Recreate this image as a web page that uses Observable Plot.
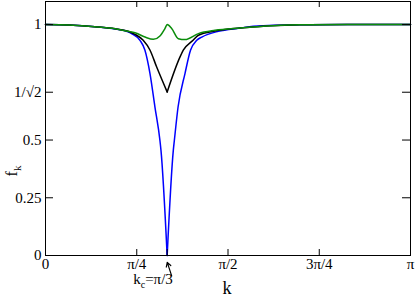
<!DOCTYPE html>
<html><head><meta charset="utf-8">
<script src="https://cdn.jsdelivr.net/npm/d3@7"></script>
<script src="https://cdn.jsdelivr.net/npm/@observablehq/plot@0.6"></script>
<style>body{margin:0;background:#fff} svg text{font-family:"Liberation Serif",serif !important}</style>
</head><body><div id="chart"></div>
<script>
const PI = Math.PI;
const kc = PI / 3;
const xTicks = [0, PI / 4, PI / 2, 3 * PI / 4, PI];
const xLabels = ["0", "π/4", "π/2", "3π/4", "π"];
const yTicks = [0, 0.25, 0.5, 1 / Math.SQRT2, 1];
const yLabels = ["0", "0.25", "0.5", "1/√2", "1"];

const kBlue = [0, 0.2, 0.425, 0.6, 0.71, 0.741, 0.813, 0.856, 0.899, 0.942, 0.985, 0.994, 1.0472, 1.100, 1.109, 1.141, 1.201, 1.248, 1.302, 1.345, 1.488, 1.675, 1.787, 2.19, 2.6, 3.1416];
const fBlue = [1.0, 0.998, 0.991, 0.981, 0.969, 0.961, 0.932, 0.889, 0.789, 0.643, 0.498, 0.455, 0.0, 0.455, 0.498, 0.643, 0.789, 0.889, 0.932, 0.946, 0.971, 0.985, 0.993, 0.999, 1.0, 1.0];

const kBlack = [0, 0.2, 0.425, 0.6, 0.71, 0.77, 0.841, 0.9, 0.957, 1.0472, 1.158, 1.186, 1.27, 1.316, 1.459, 1.675, 2.19, 2.6, 3.1416];
const fBlack = [1.0, 0.998, 0.991, 0.982, 0.971, 0.958, 0.932, 0.889, 0.816, 0.708, 0.86, 0.889, 0.932, 0.954, 0.972, 0.985, 0.999, 1.0, 1.0];

const kGreen = [0, 0.2, 0.425, 0.6, 0.71, 0.77, 0.856, 0.928, 0.985, 1.028, 1.0472, 1.086, 1.143, 1.201, 1.316, 1.459, 1.675, 2.19, 2.6, 3.1416];
const fGreen = [1.0, 0.998, 0.991, 0.982, 0.971, 0.965, 0.946, 0.936, 0.951, 0.983, 1.0, 0.983, 0.939, 0.935, 0.961, 0.975, 0.985, 0.999, 1.0, 1.0];

function branches(ks, fs) {
  const rows = [];
  ks.forEach((k, i) => {
    if (k <= kc + 1e-3) rows.push({k, f: fs[i], b: "L"});
    if (k >= kc - 1e-3) rows.push({k, f: fs[i], b: "R"});
  });
  return rows;
}
const blue = branches(kBlue, fBlue);
const black = branches(kBlack, fBlack);
const green = kGreen.map((k, i) => ({k, f: fGreen[i]}));

const W = 415, H = 297, mL = 45, mR = 5, mT = 1, mB = 42;
const frameH = H - mT - mB, frameW = W - mL - mR;
const xTickMarks = [PI / 4, kc, PI / 2, 3 * PI / 4];
const FF = "'Liberation Serif', serif";

const chart = Plot.plot({
  width: W, height: H,
  marginLeft: mL, marginRight: mR, marginTop: mT, marginBottom: mB,
  style: {fontFamily: FF, fontSize: "15px", background: "white"},
  x: {domain: [0, PI]},
  y: {domain: [0, 1.1]},
  marks: [
    Plot.line(blue, {x: "k", y: "f", z: "b", stroke: "#0000ff", strokeWidth: 1.5, curve: "monotone-x"}),
    Plot.line(black, {x: "k", y: "f", z: "b", stroke: "#000000", strokeWidth: 1.5, curve: "monotone-x"}),
    Plot.line(green, {x: "k", y: "f", stroke: "#0a8c0a", strokeWidth: 1.5, curve: "monotone-x"}),
    Plot.tickX(xTickMarks, {x: d => d, insetTop: frameH - 6, stroke: "black"}),
    Plot.tickX(xTickMarks, {x: d => d, insetBottom: frameH - 6, stroke: "black"}),
    Plot.tickY(yTicks.slice(1), {y: d => d, insetRight: frameW - 8, stroke: "black"}),
    Plot.tickY(yTicks.slice(1), {y: d => d, insetLeft: frameW - 8, stroke: "black"}),
    Plot.frame({stroke: "black", strokeWidth: 1}),
    Plot.axisX(xTicks, {tickSize: 0, tickPadding: 3, tickFormat: d => xLabels[xTicks.indexOf(d)], fontSize: 15, fontFamily: FF, label: null}),
    Plot.axisY(yTicks, {tickSize: 0, tickPadding: 4, tickFormat: d => yLabels[yTicks.indexOf(d)], fontSize: 15, fontFamily: FF, label: null}),
    Plot.arrow([{x1: 1.086, y1: -0.088, x2: 1.048, y2: -0.03}], {x1: "x1", y1: "y1", x2: "x2", y2: "y2", stroke: "black", strokeWidth: 1.2, headLength: 6})
  ]
});

const svg = d3.select(chart);
const yl = svg.append("text")
  .attr("transform", "translate(17,171) rotate(-90)")
  .attr("text-anchor", "middle")
  .attr("font-family", FF)
  .attr("font-size", 16);
yl.append("tspan").text("f");
yl.append("tspan").attr("font-size", 11).attr("dy", 4).text("k");
svg.append("text")
  .attr("x", 227).attr("y", 294)
  .attr("text-anchor", "middle")
  .attr("font-family", FF)
  .attr("font-size", 18)
  .text("k");
const kcl = svg.append("text")
  .attr("x", 153).attr("y", 284)
  .attr("font-family", FF)
  .attr("font-size", 15);
kcl.append("tspan").text("k");
kcl.append("tspan").attr("font-size", 10).attr("dy", 4).text("c");
kcl.append("tspan").attr("dy", -4).text("=π/3");

document.getElementById("chart").appendChild(chart);
</script>
</body></html>
